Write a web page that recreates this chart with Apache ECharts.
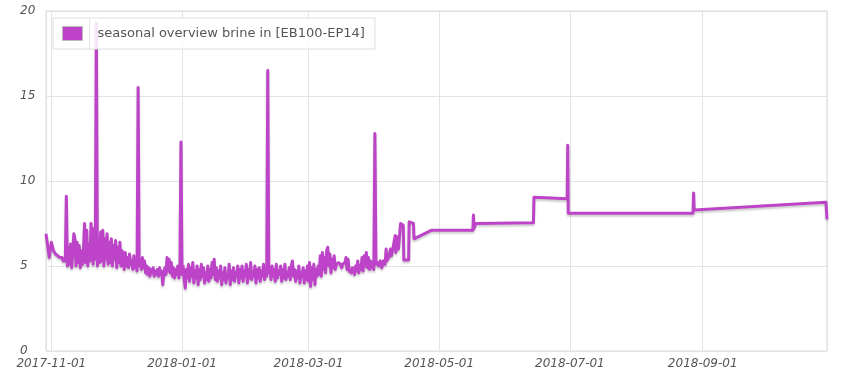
<!DOCTYPE html>
<html>
<head>
<meta charset="utf-8">
<script src="https://cdn.jsdelivr.net/npm/echarts@6/dist/echarts.min.js"></script>
<style>
html,body{margin:0;padding:0;background:#fff;}
#chart{width:850px;height:375px;}
</style>
</head>
<body>
<div id="chart"></div>
<script>
// ---- data ----
const seriesName = 'seasonal overview brine in [EB100-EP14]';
const xTickLabels = ['2017-11-01', '2018-01-01', '2018-03-01', '2018-05-01', '2018-07-01', '2018-09-01'];
const yTicks = [0, 5, 10, 15, 20];

// dense logging period: one reading every 12 hours starting 2017-10-29 12:00
const denseStart = [2017, 9, 29, 12];
const denseStepHours = 12;
const denseValues = [
  6.9, 6.8, 6.0, 5.5, 5.4, 6.4, 6.3, 5.9, 5.8, 5.7,
  5.8, 5.6, 5.6, 5.5, 5.4, 5.5, 5.3, 5.4, 5.3, 9.1,
  5.0, 6.1, 5.1, 6.3, 4.9, 5.8, 6.9, 6.6, 5.0, 6.4,
  5.2, 6.2, 4.9, 5.9, 5.1, 6.0, 7.5, 5.2, 7.1, 5.0,
  6.3, 5.3, 7.5, 6.8, 5.1, 7.2, 5.4, 19.3, 5.0, 6.5,
  5.2, 7.0, 5.3, 7.1, 5.0, 6.6, 5.4, 6.9, 5.1, 6.4,
  5.2, 6.6, 5.0, 6.2, 5.4, 6.5, 4.9, 6.1, 5.2, 6.4,
  5.0, 5.9, 5.6, 4.8, 5.8, 5.0, 5.5, 4.9, 5.7, 5.1,
  5.3, 4.8, 5.6, 4.9, 5.2, 4.7, 15.5, 5.0, 5.4, 4.8,
  5.5, 4.9, 5.3, 4.6, 5.0, 4.5, 4.9, 4.4, 4.8, 4.6,
  4.9, 4.4, 4.7, 4.5, 4.8, 4.4, 4.9, 4.5, 4.7, 3.9,
  4.6, 4.9, 4.5, 5.5, 4.7, 5.4, 4.6, 5.2, 4.4, 4.9,
  4.3, 4.8, 4.5, 5.0, 4.3, 4.7, 12.3, 4.5, 5.0, 4.2,
  3.7, 4.8, 4.3, 5.1, 4.1, 4.9, 4.4, 5.2, 4.0, 4.7,
  4.3, 5.0, 3.9, 4.8, 4.2, 5.1, 4.4, 4.9, 4.0, 4.6,
  4.2, 5.0, 4.1, 4.8, 4.3, 5.2, 4.5, 5.4, 4.2, 4.9,
  4.1, 4.7, 4.3, 5.0, 3.9, 4.6, 4.2, 4.9, 4.0, 4.5,
  4.3, 5.1, 3.9, 4.7, 4.2, 4.9, 4.1, 4.6, 4.4, 5.0,
  4.0, 4.8, 4.3, 5.0, 4.1, 4.7, 4.4, 5.1, 4.0, 4.8,
  4.3, 5.2, 4.2, 4.6, 4.4, 5.0, 4.0, 4.8, 4.3, 4.9,
  4.1, 4.7, 4.4, 5.1, 4.2, 4.8, 4.4, 16.5, 4.6, 4.9,
  4.2, 5.0, 4.4, 4.8, 4.1, 5.1, 4.3, 4.7, 4.5, 5.0,
  4.1, 4.8, 4.3, 5.1, 4.2, 4.6, 4.4, 4.9, 4.2, 5.0,
  5.3, 4.4, 4.8, 4.1, 4.7, 4.3, 5.0, 4.0, 4.6, 4.4,
  4.9, 4.0, 4.7, 4.2, 5.0, 4.1, 5.2, 3.8, 4.9, 4.2,
  5.1, 3.9, 4.8, 4.4, 5.0, 4.5, 5.6, 4.4, 5.8, 4.8,
  5.5, 4.6, 5.9, 6.1, 5.0, 5.7, 4.6, 5.4, 4.9, 5.6,
  4.8, 5.1, 5.1, 5.2, 5.1, 5.1, 4.9, 5.1, 5.0, 5.2,
  5.5, 4.8, 5.4, 4.7, 4.8, 4.6, 4.9, 4.7, 4.5, 5.0,
  4.7, 5.3, 4.6, 5.0, 4.8, 5.5, 4.7, 5.6, 5.0, 5.8,
  4.9, 5.5, 4.8, 5.3, 4.9, 5.2, 4.8, 12.8, 5.1, 5.0,
  5.2
];

// sparse period after the logger switched to event-based readings
const sparseTimes = [
  '2018-04-02 18:00', '2018-04-03 12:00', '2018-04-04 06:00', '2018-04-05 00:00', '2018-04-05 18:00',
  '2018-04-06 06:00', '2018-04-06 12:00', '2018-04-07 12:00', '2018-04-08 06:00', '2018-04-08 18:00',
  '2018-04-09 12:00', '2018-04-10 12:00', '2018-04-10 18:00', '2018-04-11 12:00', '2018-04-12 00:00',
  '2018-04-13 00:00', '2018-04-14 06:00', '2018-04-14 12:00', '2018-04-16 18:00', '2018-04-17 00:00',
  '2018-04-19 00:00', '2018-04-19 06:00', '2018-04-27 06:00', '2018-05-16 18:00', '2018-05-17 00:00',
  '2018-05-17 06:00', '2018-05-18 00:00', '2018-06-14 00:00', '2018-06-14 06:00', '2018-06-29 18:00',
  '2018-06-30 00:00', '2018-06-30 06:00', '2018-08-27 12:00', '2018-08-27 18:00', '2018-08-28 00:00',
  '2018-10-28 12:00', '2018-10-29 00:00'
];
const sparseValues = [
  5.0, 5.3, 4.9, 5.3, 5.1,
  6.0, 5.3, 5.5, 6.0, 5.6,
  6.1, 6.8, 5.8, 6.7, 6.0,
  7.5, 7.4, 5.35, 5.35, 7.6,
  7.5, 6.6, 7.1, 7.1, 8.0,
  7.2, 7.5, 7.55, 9.05, 8.95,
  12.1, 8.1, 8.1, 9.3, 8.3,
  8.75, 7.75
];

// ---- build series data ----
const seriesData = [];
const t0 = new Date(denseStart[0], denseStart[1], denseStart[2], denseStart[3]).getTime();
denseValues.forEach((v, i) => seriesData.push([t0 + i * denseStepHours * 3600 * 1000, v]));
sparseTimes.forEach((t, i) => seriesData.push([t, sparseValues[i]]));

const DAY = 24 * 3600 * 1000;
const lineColor = '#bd44c8';
const labelFont = { fontFamily: 'DejaVu Sans', fontSize: 12, fontStyle: 'italic', color: '#545454' };

const chart = echarts.init(document.getElementById('chart'), null, { renderer: 'canvas' });
chart.setOption({
  animation: false,
  backgroundColor: '#fff',
  grid: {
    left: 46, right: 23, top: 11, bottom: 24,
    show: true, borderColor: '#d9d9d9', borderWidth: 1, containLabel: false
  },
  legend: {
    data: [seriesName],
    left: 53, top: 18,
    icon: 'rect',
    itemWidth: 20, itemHeight: 14,
    padding: [8, 10, 8, 9],
    backgroundColor: 'rgba(255,255,255,0.85)',
    borderColor: '#dedede', borderWidth: 1,
    itemStyle: { borderColor: '#bbbbbb', borderWidth: 1 },
    textStyle: { fontFamily: 'DejaVu Sans', fontSize: 13, color: '#555', padding: [0, 0, 0, 10] }
  },
  graphic: [{
    type: 'line', z: 100,
    shape: { x1: 89.5, y1: 19, x2: 89.5, y2: 50 },
    style: { stroke: '#e2e2e2', lineWidth: 1 }
  }],
  xAxis: {
    type: 'time',
    min: 'dataMin', max: 'dataMax',
    minInterval: 61 * DAY, maxInterval: 61 * DAY,
    axisLine: { show: false },
    axisTick: { show: false },
    splitLine: { show: true, lineStyle: { color: '#e3e3e3', width: 1 } },
    axisLabel: Object.assign({
      margin: 7,
      showMinLabel: false, showMaxLabel: false,
      hideOverlap: false,
      formatter: function (v) {
        const s = echarts.time.format(v, '{yyyy}-{MM}-{dd}', false);
        return xTickLabels.indexOf(s) >= 0 ? s : '';
      }
    }, labelFont)
  },
  yAxis: {
    type: 'value',
    min: yTicks[0], max: yTicks[yTicks.length - 1], interval: yTicks[1] - yTicks[0],
    axisLine: { show: false },
    axisTick: { show: false },
    splitLine: { show: true, lineStyle: { color: '#e3e3e3', width: 1 } },
    axisLabel: Object.assign({ align: 'left', margin: 26 }, labelFont)
  },
  series: [{
    name: seriesName,
    type: 'line',
    data: seriesData,
    showSymbol: false,
    symbol: 'none',
    color: lineColor,
    lineStyle: {
      color: lineColor, width: 3, join: 'round',
      shadowColor: 'rgba(0,0,0,0.2)', shadowBlur: 2, shadowOffsetY: 2
    },
    clip: true
  }]
});
</script>
</body>
</html>
